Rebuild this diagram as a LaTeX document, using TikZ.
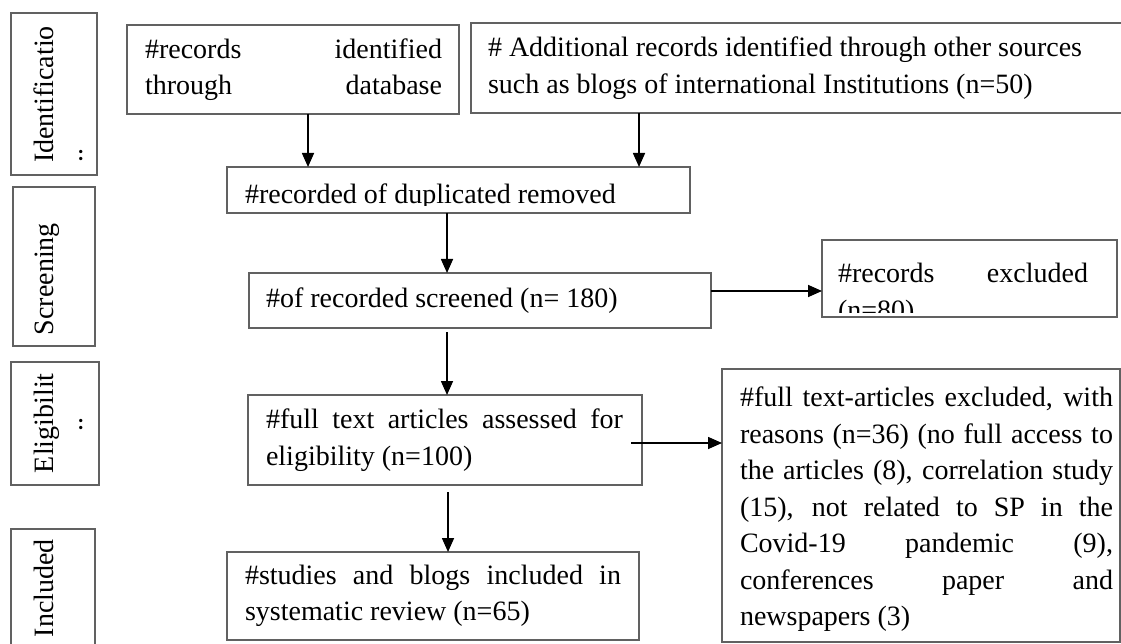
\documentclass[tikz,border=0pt]{standalone}
\usepackage{fontspec}
\setmainfont{Liberation Serif}
\usetikzlibrary{arrows.meta}
\newcommand\myfs{\fontsize{28}{36.5}\selectfont}
\newcommand\spr[2]{\makebox[#1][s]{#2}}
\tikzset{
 box/.style={draw=black!62, line width=1.5pt, inner sep=0pt, outer sep=0pt, anchor=north west, rectangle},
 txt/.style={font=\myfs, inner sep=0pt, outer sep=0pt, align=left, anchor=west},
 side/.style={font=\myfs, inner sep=0pt, outer sep=0pt, rotate=90, anchor=base west},
 arr/.style={draw=black, line width=1.6pt, -{Triangle[length=14pt,width=12pt]}},
}
\begin{document}
\begin{tikzpicture}[x=1pt,y=-1pt]
\useasboundingbox (0,0) rectangle (1121,644);
\clip (0,0) rectangle (1121,644);
\fill[white] (0,0) rectangle (1121,644);

% side boxes
\node[box, minimum width=86pt, minimum height=162pt] (S1) at (11,13) {};
\node[box, minimum width=82pt, minimum height=159pt] (S2) at (13,187) {};
\node[box, minimum width=88pt, minimum height=123pt] (S3) at (11,362) {};
\node[box, minimum width=84pt, minimum height=140pt] (S4) at (11,529) {};
\node[side] (S1t) at (53,163) {Identificatio};
\node[side] (S1d) at (82,163) {..};
\node[side] (S2t) at (53,335) {Screening};
\node[side] (S3t) at (53,473) {Eligibilit};
\node[side] (S3d) at (82,431) {..};
\node[side] (S4t) at (53,637) {Included};

% main boxes
\node[box, minimum width=332pt, minimum height=89pt] (A) at (127,25) {};
\node[box, minimum width=659pt, minimum height=90pt] (B) at (471,23) {};
\node[box, minimum width=463pt, minimum height=46pt] (C) at (227,167) {};
\node[box, minimum width=462pt, minimum height=55pt] (D) at (249,273) {};
\node[box, minimum width=295pt, minimum height=77pt] (X) at (822,240) {};
\node[box, minimum width=394pt, minimum height=90pt] (E) at (248,395) {};
\node[box, minimum width=398pt, minimum height=273pt] (F) at (722,369) {};
\node[box, minimum width=412pt, minimum height=88pt] (G) at (227,552) {};

% texts
\node[txt] (At) at ([xshift=18pt]A.west) {\spr{297pt}{\#records identified}\\\spr{297pt}{through database}};
\node[txt] (Bt) at ([xshift=17pt]B.west) {\# Additional records identified through other sources\\such as blogs of international Institutions (n=50)};
\begin{scope}
\clip (228,168) rectangle (689,206);
\node[txt, anchor=base west] (Ct) at (245,204) {\#recorded of duplicated removed};
\end{scope}
\node[txt] (Dt) at ([xshift=17pt]D.west) {\#of recorded screened (n= 180)};
\begin{scope}
\clip (823,241) rectangle (1116,312);
\node[txt, anchor=base west] (Xt1) at (838,283) {\spr{250pt}{\#records excluded}};
\node[txt, anchor=base west] (Xt2) at (838,319.5) {(n=80)};
\end{scope}
\node[txt] (Et) at ([xshift=18pt]E.west) {\spr{357pt}{\#full text articles assessed for}\\eligibility (n=100)};
\node[txt] (Ft) at ([xshift=18pt,yshift=-4pt]F.west) {\spr{373pt}{\#full text-articles excluded, with}\\\spr{373pt}{reasons (n=36) (no full access to}\\\spr{373pt}{the articles (8), correlation study}\\\spr{373pt}{(15), not related to SP in the}\\\spr{373pt}{Covid-19 pandemic (9),}\\\spr{373pt}{conferences paper and}\\newspapers (3)};
\node[txt] (Gt) at ([xshift=18pt]G.west) {\spr{376pt}{\#studies and blogs included in}\\systematic review (n=65)};

% arrows
\draw[arr] ([xshift=15pt]A.south) -- ([xshift=15pt]A.south |- C.north);
\draw[arr] ([xshift=168pt]B.south west) -- ([xshift=168pt]B.south west |- C.north);
\draw[arr] ([xshift=-11.5pt]C.south) -- ([xshift=-11.5pt]C.south |- D.north);
\draw[arr] ([xshift=-33pt,yshift=-4pt]D.south) -- ([xshift=-33pt]D.south |- E.north);
\draw[arr] ([yshift=9.5pt]D.east) -- ([yshift=9.5pt]D.east -| X.west);
\draw[arr] ([xshift=-11pt,yshift=-3pt]E.east) -- ([yshift=-3pt]E.east -| F.west);
\draw[arr] ([xshift=3pt,yshift=-7pt]E.south) -- ([xshift=3pt]E.south |- G.north);
\end{tikzpicture}
\end{document}
